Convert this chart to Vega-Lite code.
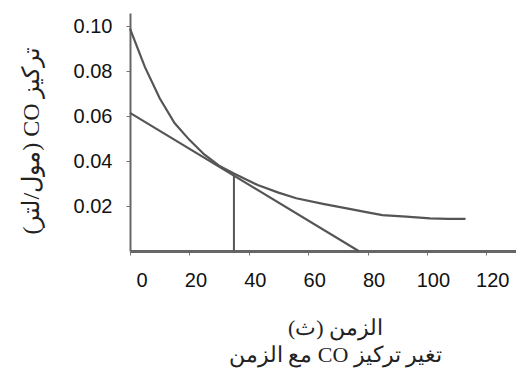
{
  "$schema": "https://vega.github.io/schema/vega-lite/v6.json",
  "width": 386,
  "height": 238,
  "autosize": "none",
  "padding": {"left": 130, "top": 13, "right": 0, "bottom": 125},
  "background": "white",
  "config": {"view": {"stroke": null}, "axis": {"grid": false}},
  "datasets": {
    "lines": [
      {"series": "curve", "t": 0, "c": 0.099},
      {"series": "curve", "t": 5, "c": 0.082},
      {"series": "curve", "t": 10, "c": 0.068},
      {"series": "curve", "t": 15, "c": 0.057},
      {"series": "curve", "t": 20, "c": 0.0495},
      {"series": "curve", "t": 25, "c": 0.043},
      {"series": "curve", "t": 30, "c": 0.038},
      {"series": "curve", "t": 35, "c": 0.0345},
      {"series": "curve", "t": 43, "c": 0.0294},
      {"series": "curve", "t": 50, "c": 0.026},
      {"series": "curve", "t": 56, "c": 0.0235},
      {"series": "curve", "t": 65, "c": 0.021},
      {"series": "curve", "t": 73, "c": 0.019},
      {"series": "curve", "t": 80, "c": 0.0172},
      {"series": "curve", "t": 85, "c": 0.016},
      {"series": "curve", "t": 93, "c": 0.0153},
      {"series": "curve", "t": 101, "c": 0.0145},
      {"series": "curve", "t": 107, "c": 0.0143},
      {"series": "curve", "t": 113, "c": 0.0143},
      {"series": "tangent", "t": 0, "c": 0.0615},
      {"series": "tangent", "t": 77, "c": 0}
    ],
    "vertical": [
      {"t": 35, "c0": 0, "c1": 0.034}
    ]
  },
  "layer": [
    {
      "data": {"name": "lines"},
      "mark": {"type": "line", "color": "#555555", "strokeWidth": 2.2},
      "encoding": {
        "x": {
          "field": "t", "type": "quantitative",
          "scale": {"domain": [0, 130], "nice": false, "zero": false},
          "axis": {
            "values": [0, 20, 40, 60, 80, 100, 120],
            "format": "d",
            "labelFont": "Liberation Sans",
            "labelFontSize": 20,
            "labelColor": "#111111",
            "labelOffset": 6,
            "labelPadding": 15,
            "tickSize": 4,
            "tickColor": "#777777",
            "domainColor": "#666666",
            "domainWidth": 3,
            "title": ["\u202Bالزمن (ث)\u202C", "\u202Bتغير تركيز CO مع الزمن\u202C"],
            "titleFont": "Liberation Serif",
            "titleFontSize": 22,
            "titleFontWeight": "normal",
            "titleColor": "#222222",
            "titleLineHeight": 27,
            "titlePadding": 27,
            "titleX": 205
          }
        },
        "y": {
          "field": "c", "type": "quantitative",
          "scale": {"domain": [0, 0.106], "nice": false},
          "axis": {
            "values": [0.02, 0.04, 0.06, 0.08, 0.10],
            "format": ".2f",
            "labelFont": "Liberation Sans",
            "labelFontSize": 20,
            "labelColor": "#111111",
            "labelPadding": 14,
            "tickSize": 4,
            "tickColor": "#777777",
            "domainColor": "#666666",
            "domainWidth": 2,
            "title": "\u202Bتركيز CO (مول/لتر)\u202C",
            "titleFont": "Liberation Serif",
            "titleFontSize": 24,
            "titleFontWeight": "normal",
            "titleColor": "#222222",
            "titlePadding": 30,
            "titleY": 127
          }
        },
        "detail": {"field": "series", "type": "nominal"}
      }
    },
    {
      "data": {"name": "vertical"},
      "mark": {"type": "rule", "color": "#555555", "strokeWidth": 2},
      "encoding": {
        "x": {"field": "t", "type": "quantitative"},
        "y": {"field": "c0", "type": "quantitative"},
        "y2": {"field": "c1"}
      }
    }
  ]
}
